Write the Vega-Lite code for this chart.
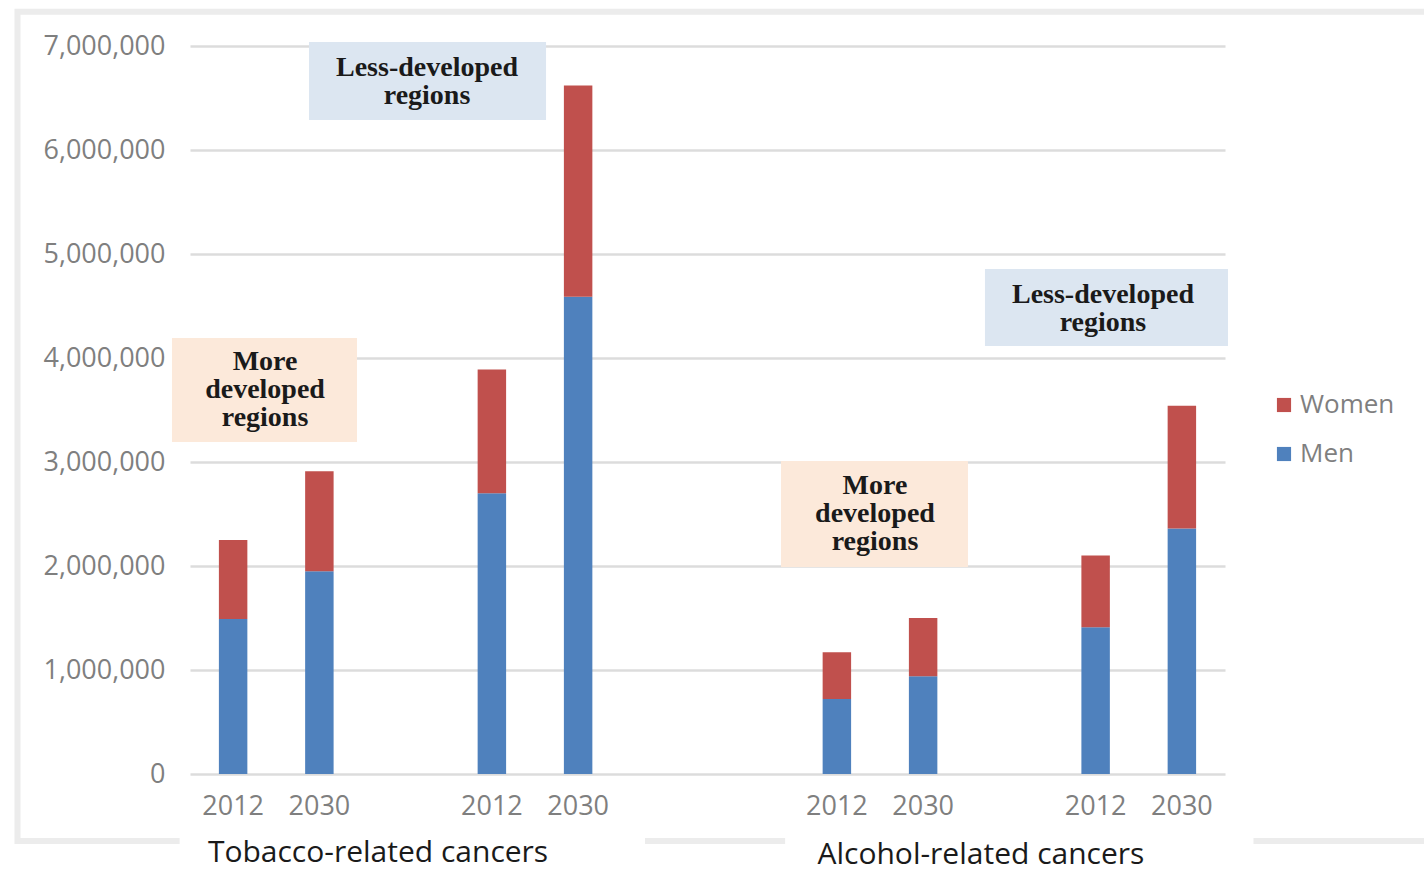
{
  "$schema": "https://vega.github.io/schema/vega-lite/v6.json",
  "autosize": {"type": "none"},
  "padding": {"left": 190, "top": 46, "right": 199, "bottom": 98},
  "width": 1035,
  "height": 728,
  "background": "white",
  "config": {"view": {"stroke": null}},
  "datasets": {
    "bars": [
      {"slot": "T-More-2012", "cancer": "Tobacco-related cancers", "region": "More developed regions", "year": "2012", "sex": "Men", "count": 1490000},
      {"slot": "T-More-2012", "cancer": "Tobacco-related cancers", "region": "More developed regions", "year": "2012", "sex": "Women", "count": 760000},
      {"slot": "T-More-2030", "cancer": "Tobacco-related cancers", "region": "More developed regions", "year": "2030", "sex": "Men", "count": 1950000},
      {"slot": "T-More-2030", "cancer": "Tobacco-related cancers", "region": "More developed regions", "year": "2030", "sex": "Women", "count": 960000},
      {"slot": "T-Less-2012", "cancer": "Tobacco-related cancers", "region": "Less-developed regions", "year": "2012", "sex": "Men", "count": 2700000},
      {"slot": "T-Less-2012", "cancer": "Tobacco-related cancers", "region": "Less-developed regions", "year": "2012", "sex": "Women", "count": 1190000},
      {"slot": "T-Less-2030", "cancer": "Tobacco-related cancers", "region": "Less-developed regions", "year": "2030", "sex": "Men", "count": 4590000},
      {"slot": "T-Less-2030", "cancer": "Tobacco-related cancers", "region": "Less-developed regions", "year": "2030", "sex": "Women", "count": 2030000},
      {"slot": "A-More-2012", "cancer": "Alcohol-related cancers", "region": "More developed regions", "year": "2012", "sex": "Men", "count": 720000},
      {"slot": "A-More-2012", "cancer": "Alcohol-related cancers", "region": "More developed regions", "year": "2012", "sex": "Women", "count": 450000},
      {"slot": "A-More-2030", "cancer": "Alcohol-related cancers", "region": "More developed regions", "year": "2030", "sex": "Men", "count": 940000},
      {"slot": "A-More-2030", "cancer": "Alcohol-related cancers", "region": "More developed regions", "year": "2030", "sex": "Women", "count": 560000},
      {"slot": "A-Less-2012", "cancer": "Alcohol-related cancers", "region": "Less-developed regions", "year": "2012", "sex": "Men", "count": 1410000},
      {"slot": "A-Less-2012", "cancer": "Alcohol-related cancers", "region": "Less-developed regions", "year": "2012", "sex": "Women", "count": 690000},
      {"slot": "A-Less-2030", "cancer": "Alcohol-related cancers", "region": "Less-developed regions", "year": "2030", "sex": "Men", "count": 2360000},
      {"slot": "A-Less-2030", "cancer": "Alcohol-related cancers", "region": "Less-developed regions", "year": "2030", "sex": "Women", "count": 1180000}
    ],
    "frame": [
      {"part": "frame", "x0": -2.0, "x1": 14.8, "y0": 7330000, "y1": -645000}
    ],
    "mask": [
      {"part": "Tobacco", "x0": -0.12, "x1": 5.275, "y0": -520000, "y1": -950000},
      {"part": "Alcohol", "x0": 6.9, "x1": 12.33, "y0": -520000, "y1": -950000}
    ],
    "boxes": [
      {"region": "More developed regions", "label": "More\ndeveloped\nregions", "x0": -0.209, "x1": 1.936, "y0": 4192000, "y1": 3192000, "tx": 0.87, "ty": 3962000},
      {"region": "Less-developed regions", "label": "Less-developed\nregions", "x0": 1.38, "x1": 4.128, "y0": 7038000, "y1": 6288000, "tx": 2.748, "ty": 6788000},
      {"region": "More developed regions", "label": "More\ndeveloped\nregions", "x0": 6.852, "x1": 9.02, "y0": 3010000, "y1": 1990000, "tx": 7.942, "ty": 2769000},
      {"region": "Less-developed regions", "label": "Less-developed\nregions", "x0": 9.217, "x1": 12.035, "y0": 4856000, "y1": 4115000, "tx": 10.585, "ty": 4606000}
    ],
    "titles": [
      {"label": "Tobacco-related cancers", "tx": 2.18, "ty": -755000},
      {"label": "Alcohol-related cancers", "tx": 9.17, "ty": -775000}
    ]
  },
  "layer": [
    {
      "data": {"name": "bars"},
      "mark": {"type": "bar", "width": {"band": 0.33}},
      "encoding": {
        "x": {
          "field": "slot", "type": "nominal",
          "scale": {"domain": ["T-More-2012", "T-More-2030", "gap1", "T-Less-2012", "T-Less-2030", "gap2", "gap3", "A-More-2012", "A-More-2030", "gap4", "A-Less-2012", "A-Less-2030"], "paddingInner": 0, "paddingOuter": 0},
          "axis": {
            "title": null, "labelAngle": 0, "ticks": false, "domain": false,
            "labelExpr": "indexof(datum.value, 'gap') == 0 ? '' : slice(datum.value, -4)",
            "labelFont": "Open Sans", "labelFontSize": 27, "labelColor": "#7f7f7f", "labelPadding": 19
          }
        },
        "y": {
          "field": "count", "type": "quantitative", "stack": "zero",
          "scale": {"domain": [0, 7000000], "nice": false},
          "axis": {
            "title": null, "values": [0, 1000000, 2000000, 3000000, 4000000, 5000000, 6000000, 7000000],
            "format": ",.0f", "domain": false, "ticks": false,
            "grid": true, "gridColor": "#dcdcdc", "gridWidth": 2.5,
            "labelFont": "Open Sans", "labelFontSize": 27, "labelColor": "#7f7f7f", "labelPadding": 25
          }
        },
        "color": {
          "field": "sex", "type": "nominal",
          "scale": {"domain": ["Women", "Men"], "range": ["#C0504D", "#4F81BD"]},
          "legend": {
            "title": null, "orient": "none", "legendX": 1081, "legendY": 346,
            "symbolType": "square", "symbolSize": 200, "symbolStrokeWidth": 0,
            "labelFont": "Open Sans", "labelFontSize": 26, "labelColor": "#7f7f7f",
            "labelOffset": 3, "rowPadding": 23
          }
        },
        "order": {"field": "sex", "sort": "ascending"}
      }
    },
    {
      "data": {"name": "frame"},
      "mark": {"type": "rect", "fillOpacity": 0, "stroke": "#ececec", "strokeWidth": 6},
      "encoding": {
        "x": {"field": "x0", "type": "quantitative", "scale": {"domain": [0, 12], "nice": false, "zero": false}, "axis": null},
        "x2": {"field": "x1"},
        "y": {"field": "y0", "type": "quantitative", "scale": {"domain": [0, 7000000], "nice": false}, "axis": null},
        "y2": {"field": "y1"}
      }
    },
    {
      "data": {"name": "mask"},
      "mark": {"type": "rect", "fill": "white"},
      "encoding": {
        "x": {"field": "x0", "type": "quantitative", "scale": {"domain": [0, 12], "nice": false, "zero": false}, "axis": null},
        "x2": {"field": "x1"},
        "y": {"field": "y0", "type": "quantitative", "scale": {"domain": [0, 7000000], "nice": false}, "axis": null},
        "y2": {"field": "y1"}
      }
    },
    {
      "data": {"name": "boxes"},
      "mark": {"type": "rect"},
      "encoding": {
        "x": {"field": "x0", "type": "quantitative", "scale": {"domain": [0, 12], "nice": false, "zero": false}, "axis": null},
        "x2": {"field": "x1"},
        "y": {"field": "y0", "type": "quantitative", "scale": {"domain": [0, 7000000], "nice": false}, "axis": null},
        "y2": {"field": "y1"},
        "fill": {"field": "region", "type": "nominal", "scale": {"domain": ["More developed regions", "Less-developed regions"], "range": ["#FCE9DA", "#DCE6F1"]}, "legend": null}
      }
    },
    {
      "data": {"name": "boxes"},
      "mark": {"type": "text", "font": "Liberation Serif", "fontWeight": "bold", "fontSize": 28, "color": "#1a1a1a", "lineBreak": "\n", "lineHeight": 28, "align": "center", "baseline": "middle"},
      "encoding": {
        "x": {"field": "tx", "type": "quantitative", "scale": {"domain": [0, 12], "nice": false, "zero": false}, "axis": null},
        "y": {"field": "ty", "type": "quantitative", "scale": {"domain": [0, 7000000], "nice": false}, "axis": null},
        "text": {"field": "label"}
      }
    },
    {
      "data": {"name": "titles"},
      "mark": {"type": "text", "font": "Open Sans", "fontSize": 30, "color": "#1a1a1a", "align": "center", "baseline": "middle"},
      "encoding": {
        "x": {"field": "tx", "type": "quantitative", "scale": {"domain": [0, 12], "nice": false, "zero": false}, "axis": null},
        "y": {"field": "ty", "type": "quantitative", "scale": {"domain": [0, 7000000], "nice": false}, "axis": null},
        "text": {"field": "label"}
      }
    }
  ],
  "resolve": {"scale": {"x": "independent", "fill": "independent"}, "axis": {"x": "independent", "y": "independent"}}
}
